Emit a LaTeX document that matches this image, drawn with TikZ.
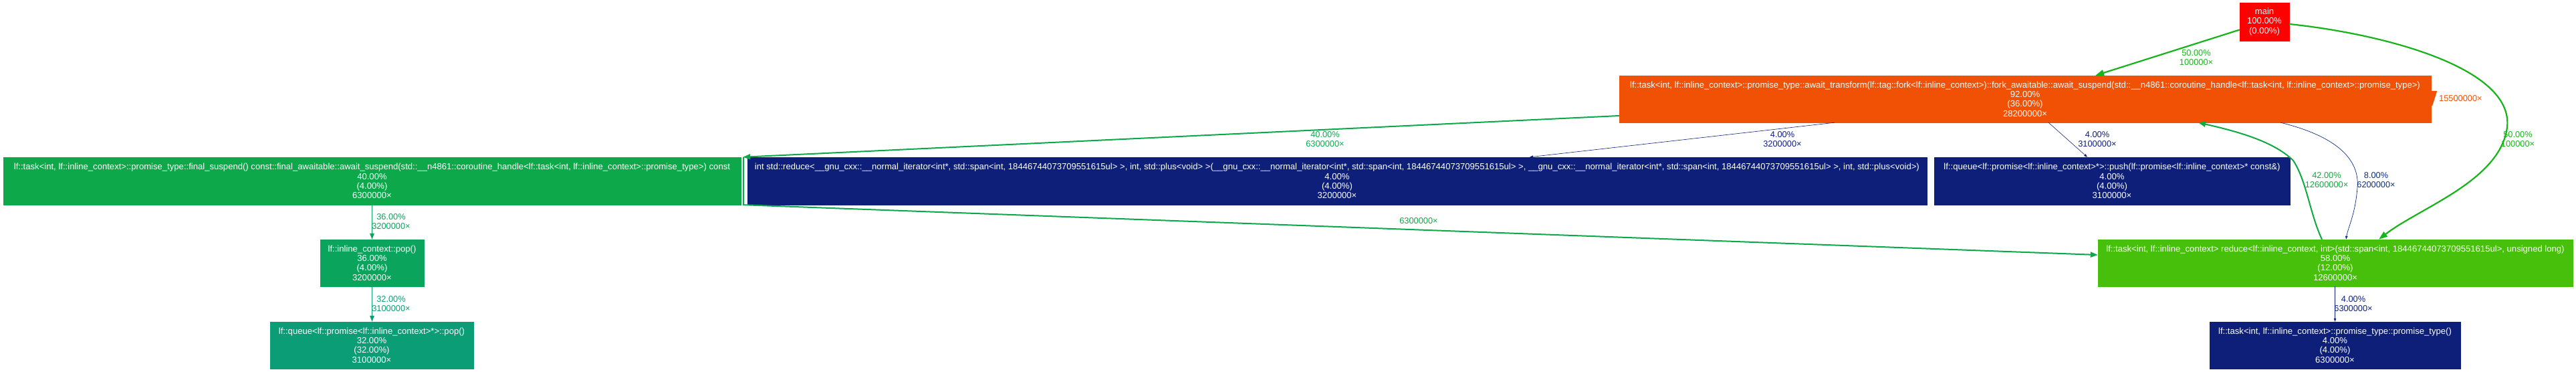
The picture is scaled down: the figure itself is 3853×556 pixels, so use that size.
\documentclass[tikz,border=0pt]{standalone}
\usepackage{fontspec}
\setmainfont{Liberation Sans}
\usetikzlibrary{arrows.meta}
\definecolor{cmain}{HTML}{FF0000}
\definecolor{corange}{HTML}{F15105}
\definecolor{cfinal}{HTML}{0CA84A}
\definecolor{cpop}{HTML}{0BA45C}
\definecolor{cqpop}{HTML}{0B9D76}
\definecolor{cnavy}{HTML}{0D1F78}
\definecolor{cnavyb}{HTML}{0D3083}
\definecolor{clfred}{HTML}{46C00A}
\definecolor{cfifty}{HTML}{16B419}
\definecolor{cfortytwo}{HTML}{0DAB3F}
\newcommand{\nodefont}{\fontsize{13.1}{14.3}\selectfont}
\newcommand{\lblfont}{\fontsize{12.8}{14}\selectfont}
\begin{document}
\begin{tikzpicture}[x=1pt,y=-1pt,
  fbox/.style={rectangle, draw=#1, fill=#1, text=white, inner sep=0pt, align=center, font=\nodefont},
  elabel/.style={text=#1, inner sep=0pt, align=center, font=\lblfont},
  edge/.style={draw=#1, line cap=butt},
  tipbig/.style={-{Triangle[length=13pt,width=9pt]}},
  tipmid/.style={-{Triangle[length=11pt,width=8pt]}},
  tipsmall/.style={-{Triangle[length=9pt,width=6.5pt]}},
  tiptiny/.style={-{Triangle[length=5pt,width=3.5pt]}}]
\fill[white] (0,0) rectangle (3853,556);
\useasboundingbox (0,0) rectangle (3853,556);

% nodes
\node[fbox=cmain, minimum width=74pt, minimum height=57pt] (main) at (3387,32.5)
  {main\\100.00\%\\(0.00\%)};
\node[fbox=corange, minimum width=1214pt, minimum height=70pt] (orange) at (3029,148)
  {lf::task<int, lf::inline\_context>::promise\_type::await\_transform(lf::tag::fork<lf::inline\_context>)::fork\_awaitable::await\_suspend(std::\_\_n4861::coroutine\_handle<lf::task<int, lf::inline\_context>::promise\_type>)\\92.00\%\\(36.00\%)\\28200000×};
\node[fbox=cfinal, minimum width=1103pt, minimum height=71pt] (final) at (556.5,270.5)
  {lf::task<int, lf::inline\_context>::promise\_type::final\_suspend() const::final\_awaitable::await\_suspend(std::\_\_n4861::coroutine\_handle<lf::task<int, lf::inline\_context>::promise\_type>) const\\40.00\%\\(4.00\%)\\6300000×};
\node[fbox=cnavy, minimum width=1764pt, minimum height=71pt] (sreduce) at (2000,270.5)
  {int std::reduce<\_\_gnu\_cxx::\_\_normal\_iterator<int*, std::span<int, 18446744073709551615ul> >, int, std::plus<void> >(\_\_gnu\_cxx::\_\_normal\_iterator<int*, std::span<int, 18446744073709551615ul> >, \_\_gnu\_cxx::\_\_normal\_iterator<int*, std::span<int, 18446744073709551615ul> >, int, std::plus<void>)\\4.00\%\\(4.00\%)\\3200000×};
\node[fbox=cnavy, minimum width=532pt, minimum height=71pt] (qpush) at (3159,270.5)
  {lf::queue<lf::promise<lf::inline\_context>*>::push(lf::promise<lf::inline\_context>* const\&)\\4.00\%\\(4.00\%)\\3100000×};
\node[fbox=cpop, minimum width=155pt, minimum height=70pt] (pop) at (556.5,393)
  {lf::inline\_context::pop()\\36.00\%\\(4.00\%)\\3200000×};
\node[fbox=clfred, minimum width=710pt, minimum height=70pt] (lfreduce) at (3493,393)
  {lf::task<int, lf::inline\_context> reduce<lf::inline\_context, int>(std::span<int, 18446744073709551615ul>, unsigned long)\\58.00\%\\(12.00\%)\\12600000×};
\node[fbox=cqpop, minimum width=304pt, minimum height=70pt] (qpop) at (556,516)
  {lf::queue<lf::promise<lf::inline\_context>*>::pop()\\32.00\%\\(32.00\%)\\3100000×};
\node[fbox=cnavy, minimum width=375pt, minimum height=70pt] (prom) at (3492.5,516)
  {lf::task<int, lf::inline\_context>::promise\_type::promise\_type()\\4.00\%\\(4.00\%)\\6300000×};

% edges
\draw[edge=cfifty, line width=2.2pt, tipbig] ([yshift=-12pt]main.west) -- ([xshift=105pt]orange.north);
\node[elabel=cfifty] (l1) at (3285,86) {50.00\%\\100000×};

\draw[edge=cfifty, line width=2.2pt, tipbig] ([yshift=-3.5pt]main.east)
  .. controls (3560,50) and (3760,100) .. (3750,190)
  .. controls (3740,270) and (3620,310) .. ([xshift=65pt]lfreduce.north);
\node[elabel=cfifty] (l2) at (3766,208) {50.00\%\\100000×};

\draw[edge=cfinal, line width=2pt, tipmid] ([yshift=-25pt]orange.west) -- ([xshift=3pt]final.north east);
\node[elabel=cfinal] (l3) at (1982,208.5) {40.00\%\\6300000×};

\draw[edge=cnavy, line width=0.6pt, tiptiny] ([xshift=-285pt]orange.south) -- ([xshift=288pt]sreduce.north);
\node[elabel=cnavy] (l4) at (2666,208.5) {4.00\%\\3200000×};

\draw[edge=cnavy, line width=0.6pt, tiptiny] ([xshift=35pt]orange.south) -- ([xshift=-37pt]qpush.north);
\node[elabel=cnavy] (l5) at (3137,208.5) {4.00\%\\3100000×};

\draw[edge=cnavyb, line width=0.7pt, tiptiny] ([xshift=382pt]orange.south)
  .. controls (3480,200) and (3530,230) .. (3526,280)
  .. controls (3523,320) and (3512,340) .. ([xshift=16pt]lfreduce.north);
\node[elabel=cnavyb] (l6) at (3554,269.5) {8.00\%\\6200000×};

\draw[edge=cfortytwo, line width=2pt, tipmid] ([xshift=-20pt]lfreduce.north)
  .. controls (3455,320) and (3450,270) .. (3430,240)
  .. controls (3400,210) and (3340,195) .. ([xshift=259pt]orange.south);
\node[elabel=cfortytwo] (l7) at (3480,269.5) {42.00\%\\12600000×};

\draw[edge=cpop, line width=1.6pt, tipsmall] (pop.north |- final.south) -- (pop.north);
\node[elabel=cpop] (l8) at (585,331) {36.00\%\\3200000×};

\draw[edge=cqpop, line width=1.5pt, tipsmall] (pop.south) -- (pop.south |- qpop.north);
\node[elabel=cqpop] (l9) at (585,454) {32.00\%\\3100000×};

\draw[edge=cfinal, line width=2pt, tipmid] ([xshift=4pt]final.north east) -- ([xshift=4pt]final.south east) -- ([yshift=12pt]lfreduce.west);
\node[elabel=cfinal] (l10) at (2122,330) {6300000×};

\draw[edge=cnavy, line width=0.6pt, tiptiny] (lfreduce.south -| prom.north) -- (prom.north);
\node[elabel=cnavy] (l11) at (3520,454) {4.00\%\\6300000×};

% self loop on orange node
\fill[corange] ([yshift=12pt]orange.east) -- ++(9,0) -- ++(-7,22) -- ++(-2,0) -- cycle;
\node[elabel=corange, anchor=west] (l12) at (3648,147) {15500000×};
\end{tikzpicture}
\end{document}
